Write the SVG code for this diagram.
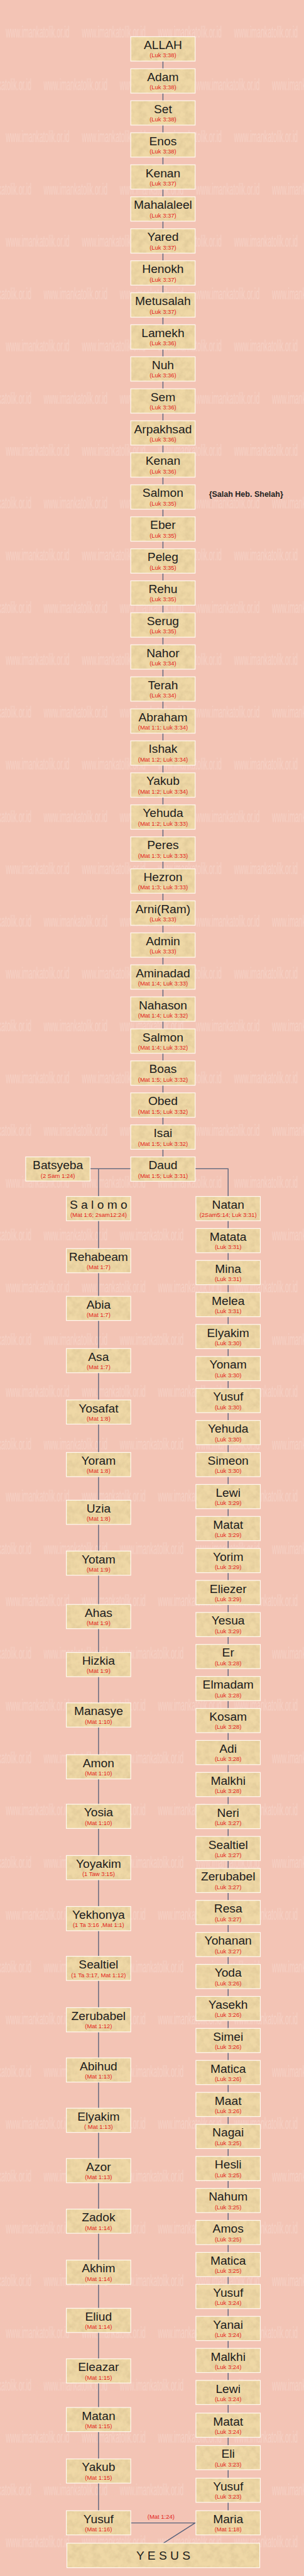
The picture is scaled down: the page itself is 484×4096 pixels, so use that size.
<svg xmlns="http://www.w3.org/2000/svg" width="484" height="4096" viewBox="0 0 484 4096">
<defs>
<style>
.b{fill:url(#pp);stroke:#fff8ef;stroke-width:2}
.n{font-family:"Liberation Sans",Arial,sans-serif;font-size:31.5px;fill:#1c1c1c;text-anchor:middle}
.r{font-family:"Liberation Sans",Arial,sans-serif;font-size:15.5px;fill:#e3231c;text-anchor:middle}
.w{font-family:"Liberation Sans",Arial,sans-serif;font-size:43px;fill:#ffffff;fill-opacity:0.22}
.c{fill:none;stroke:#55607a;stroke-width:2.2}
</style>
<filter id="tex" x="0" y="0" width="1" height="1">
<feTurbulence type="fractalNoise" baseFrequency="0.06" numOctaves="3" seed="7" stitchTiles="stitch"/>
<feColorMatrix type="matrix" values="0 0 0 0 0.55  0 0 0 0 0.42  0 0 0 0 0.22  1.6 0 0 0 -0.6"/>
</filter>
<pattern id="pp" patternUnits="userSpaceOnUse" width="120" height="120">
<rect width="120" height="120" fill="#efd8a6"/>
<rect width="120" height="120" fill="#000" filter="url(#tex)" opacity="0.45"/>
</pattern>
<pattern id="wm" patternUnits="userSpaceOnUse" width="198.5" height="272.4">
<text class="w" x="15" y="98" textLength="166" lengthAdjust="spacingAndGlyphs">www.imankatolik.or.id</text>
<text class="w" x="114" y="234.2" textLength="166" lengthAdjust="spacingAndGlyphs">www.imankatolik.or.id</text>
<text class="w" x="-84.5" y="234.2" textLength="166" lengthAdjust="spacingAndGlyphs">www.imankatolik.or.id</text>
</pattern>
</defs>
<g transform="scale(0.6104)">
<rect x="0" y="0" width="793" height="6712" fill="#f3c4b5"/>
<rect x="0" y="0" width="793" height="6712" fill="url(#wm)"/>
<g id="connectors">
<path class="c" d="M425 159 V3014"/>
<path class="c" d="M235 3044.5 H341"/>
<path class="c" d="M257 3044.5 V6541"/>
<path class="c" d="M509 3044.5 H595 V6541"/>
<path class="c" d="M341 6572 H509 L426 6625"/>
<text class="r" x="420" y="6561">(Mat 1:24)</text>
</g>
<g id="m00"><rect class="b" x="341" y="95.7" width="168" height="63.5"/><text class="n" x="425" y="127.7">ALLAH</text><text class="r" x="425" y="149.7">(Luk 3:38)</text></g>
<g id="m01"><rect class="b" x="341" y="179.1" width="168" height="63.5"/><text class="n" x="425" y="211.1">Adam</text><text class="r" x="425" y="233.1">(Luk 3:38)</text></g>
<g id="m02"><rect class="b" x="341" y="262.4" width="168" height="63.5"/><text class="n" x="425" y="294.4">Set</text><text class="r" x="425" y="316.4">(Luk 3:38)</text></g>
<g id="m03"><rect class="b" x="341" y="345.8" width="168" height="63.5"/><text class="n" x="425" y="377.8">Enos</text><text class="r" x="425" y="399.8">(Luk 3:38)</text></g>
<g id="m04"><rect class="b" x="341" y="429.2" width="168" height="63.5"/><text class="n" x="425" y="461.2">Kenan</text><text class="r" x="425" y="483.2">(Luk 3:37)</text></g>
<g id="m05"><rect class="b" x="341" y="512.6" width="168" height="63.5"/><text class="n" x="425" y="544.6">Mahalaleel</text><text class="r" x="425" y="566.6">(Luk 3:37)</text></g>
<g id="m06"><rect class="b" x="341" y="595.9" width="168" height="63.5"/><text class="n" x="425" y="627.9">Yared</text><text class="r" x="425" y="649.9">(Luk 3:37)</text></g>
<g id="m07"><rect class="b" x="341" y="679.3" width="168" height="63.5"/><text class="n" x="425" y="711.3">Henokh</text><text class="r" x="425" y="733.3">(Luk 3:37)</text></g>
<g id="m08"><rect class="b" x="341" y="762.7" width="168" height="63.5"/><text class="n" x="425" y="794.7">Metusalah</text><text class="r" x="425" y="816.7">(Luk 3:37)</text></g>
<g id="m09"><rect class="b" x="341" y="846" width="168" height="63.5"/><text class="n" x="425" y="878">Lamekh</text><text class="r" x="425" y="900">(Luk 3:36)</text></g>
<g id="m10"><rect class="b" x="341" y="929.4" width="168" height="63.5"/><text class="n" x="425" y="961.4">Nuh</text><text class="r" x="425" y="983.4">(Luk 3:36)</text></g>
<g id="m11"><rect class="b" x="341" y="1012.8" width="168" height="63.5"/><text class="n" x="425" y="1044.8">Sem</text><text class="r" x="425" y="1066.8">(Luk 3:36)</text></g>
<g id="m12"><rect class="b" x="341" y="1096.1" width="168" height="63.5"/><text class="n" x="425" y="1128.1">Arpakhsad</text><text class="r" x="425" y="1150.1">(Luk 3:36)</text></g>
<g id="m13"><rect class="b" x="341" y="1179.5" width="168" height="63.5"/><text class="n" x="425" y="1211.5">Kenan</text><text class="r" x="425" y="1233.5">(Luk 3:36)</text></g>
<g id="m14"><rect class="b" x="341" y="1262.9" width="168" height="63.5"/><text class="n" x="425" y="1294.9">Salmon</text><text class="r" x="425" y="1316.9">(Luk 3:35)</text><text x="545" y="1295" font-family="Liberation Sans, Arial, sans-serif" font-size="20.5" font-weight="bold" fill="#222">{Salah Heb. Shelah}</text></g>
<g id="m15"><rect class="b" x="341" y="1346.3" width="168" height="63.5"/><text class="n" x="425" y="1378.3">Eber</text><text class="r" x="425" y="1400.3">(Luk 3:35)</text></g>
<g id="m16"><rect class="b" x="341" y="1429.6" width="168" height="63.5"/><text class="n" x="425" y="1461.6">Peleg</text><text class="r" x="425" y="1483.6">(Luk 3:35)</text></g>
<g id="m17"><rect class="b" x="341" y="1513" width="168" height="63.5"/><text class="n" x="425" y="1545">Rehu</text><text class="r" x="425" y="1567">(Luk 3:35)</text></g>
<g id="m18"><rect class="b" x="341" y="1596.4" width="168" height="63.5"/><text class="n" x="425" y="1628.4">Serug</text><text class="r" x="425" y="1650.4">(Luk 3:35)</text></g>
<g id="m19"><rect class="b" x="341" y="1679.7" width="168" height="63.5"/><text class="n" x="425" y="1711.7">Nahor</text><text class="r" x="425" y="1733.7">(Luk 3:34)</text></g>
<g id="m20"><rect class="b" x="341" y="1763.1" width="168" height="63.5"/><text class="n" x="425" y="1795.1">Terah</text><text class="r" x="425" y="1817.1">(Luk 3:34)</text></g>
<g id="m21"><rect class="b" x="341" y="1846.5" width="168" height="63.5"/><text class="n" x="425" y="1878.5">Abraham</text><text class="r" x="425" y="1900.5">(Mat 1:1; Luk 3:34)</text></g>
<g id="m22"><rect class="b" x="341" y="1929.8" width="168" height="63.5"/><text class="n" x="425" y="1961.8">Ishak</text><text class="r" x="425" y="1983.8">(Mat 1:2; Luk 3:34)</text></g>
<g id="m23"><rect class="b" x="341" y="2013.2" width="168" height="63.5"/><text class="n" x="425" y="2045.2">Yakub</text><text class="r" x="425" y="2067.2">(Mat 1:2; Luk 3:34)</text></g>
<g id="m24"><rect class="b" x="341" y="2096.6" width="168" height="63.5"/><text class="n" x="425" y="2128.6">Yehuda</text><text class="r" x="425" y="2150.6">(Mat 1:2; Luk 3:33)</text></g>
<g id="m25"><rect class="b" x="341" y="2180" width="168" height="63.5"/><text class="n" x="425" y="2212">Peres</text><text class="r" x="425" y="2234">(Mat 1:3; Luk 3:33)</text></g>
<g id="m26"><rect class="b" x="341" y="2263.3" width="168" height="63.5"/><text class="n" x="425" y="2295.3">Hezron</text><text class="r" x="425" y="2317.3">(Mat 1:3; Luk 3:33)</text></g>
<g id="m27"><rect class="b" x="341" y="2346.7" width="168" height="63.5"/><text class="n" x="425" y="2378.7">Arni(Ram)</text><text class="r" x="425" y="2400.7">(Luk 3:33)</text></g>
<g id="m28"><rect class="b" x="341" y="2430.1" width="168" height="63.5"/><text class="n" x="425" y="2462.1">Admin</text><text class="r" x="425" y="2484.1">(Luk 3:33)</text></g>
<g id="m29"><rect class="b" x="341" y="2513.4" width="168" height="63.5"/><text class="n" x="425" y="2545.4">Aminadad</text><text class="r" x="425" y="2567.4">(Mat 1:4; Luk 3:33)</text></g>
<g id="m30"><rect class="b" x="341" y="2596.8" width="168" height="63.5"/><text class="n" x="425" y="2628.8">Nahason</text><text class="r" x="425" y="2650.8">(Mat 1:4; Luk 3:32)</text></g>
<g id="m31"><rect class="b" x="341" y="2680.2" width="168" height="63.5"/><text class="n" x="425" y="2712.2">Salmon</text><text class="r" x="425" y="2734.2">(Mat 1:4; Luk 3:32)</text></g>
<g id="m32"><rect class="b" x="341" y="2763.5" width="168" height="63.5"/><text class="n" x="425" y="2795.5">Boas</text><text class="r" x="425" y="2817.5">(Mat 1:5; Luk 3:32)</text></g>
<g id="m33"><rect class="b" x="341" y="2846.9" width="168" height="63.5"/><text class="n" x="425" y="2878.9">Obed</text><text class="r" x="425" y="2900.9">(Mat 1:5; Luk 3:32)</text></g>
<g id="m34"><rect class="b" x="341" y="2930.3" width="168" height="63.5"/><text class="n" x="425" y="2962.3">Isai</text><text class="r" x="425" y="2984.3">(Mat 1:5; Luk 3:32)</text></g>
<g id="m35"><rect class="b" x="341" y="3013.7" width="168" height="63.5"/><text class="n" x="425" y="3045.7">Daud</text><text class="r" x="425" y="3067.7">(Mat 1:5; Luk 3:31)</text></g>
<g id="batsyeba"><rect class="b" x="67" y="3013.7" width="168" height="63"/><text class="n" x="151" y="3045.7">Batsyeba</text><text class="r" x="151" y="3067.7">(2 Sam 1:24)</text></g>
<g id="l00"><rect class="b" x="173" y="3116.8" width="168" height="63"/><text class="n" x="257" y="3148.8">S a l o m o</text><text class="r" x="257" y="3170.8">(Mat 1:6; 2sam12:24)</text></g>
<g id="l01"><rect class="b" x="173" y="3252.5" width="168" height="63"/><text class="n" x="257" y="3284.5">Rehabeam</text><text class="r" x="257" y="3306.5">(Mat 1:7)</text></g>
<g id="l02"><rect class="b" x="173" y="3376.8" width="168" height="63"/><text class="n" x="257" y="3408.8">Abia</text><text class="r" x="257" y="3430.8">(Mat 1:7)</text></g>
<g id="l03"><rect class="b" x="173" y="3512.9" width="168" height="63"/><text class="n" x="257" y="3544.9">Asa</text><text class="r" x="257" y="3566.9">(Mat 1:7)</text></g>
<g id="l04"><rect class="b" x="173" y="3646.8" width="168" height="63"/><text class="n" x="257" y="3678.8">Yosafat</text><text class="r" x="257" y="3700.8">(Mat 1:8)</text></g>
<g id="l05"><rect class="b" x="173" y="3783.6" width="168" height="63"/><text class="n" x="257" y="3815.6">Yoram</text><text class="r" x="257" y="3837.6">(Mat 1:8)</text></g>
<g id="l06"><rect class="b" x="173" y="3908" width="168" height="63"/><text class="n" x="257" y="3940">Uzia</text><text class="r" x="257" y="3962">(Mat 1:8)</text></g>
<g id="l07"><rect class="b" x="173" y="4040.4" width="168" height="63"/><text class="n" x="257" y="4072.4">Yotam</text><text class="r" x="257" y="4094.4">(Mat 1:9)</text></g>
<g id="l08"><rect class="b" x="173" y="4179.6" width="168" height="63"/><text class="n" x="257" y="4211.6">Ahas</text><text class="r" x="257" y="4233.6">(Mat 1:9)</text></g>
<g id="l09"><rect class="b" x="173" y="4304.6" width="168" height="63"/><text class="n" x="257" y="4336.6">Hizkia</text><text class="r" x="257" y="4358.6">(Mat 1:9)</text></g>
<g id="l10"><rect class="b" x="173" y="4436" width="168" height="63"/><text class="n" x="257" y="4468">Manasye</text><text class="r" x="257" y="4490">(Mat 1:10)</text></g>
<g id="l11"><rect class="b" x="173" y="4571" width="168" height="63"/><text class="n" x="257" y="4603">Amon</text><text class="r" x="257" y="4625">(Mat 1:10)</text></g>
<g id="l12"><rect class="b" x="173" y="4700" width="168" height="63"/><text class="n" x="257" y="4732">Yosia</text><text class="r" x="257" y="4754">(Mat 1:10)</text></g>
<g id="l13"><rect class="b" x="173" y="4833.6" width="168" height="63"/><text class="n" x="257" y="4865.6">Yoyakim</text><text class="r" x="257" y="4887.6">(1 Taw 3:15)</text></g>
<g id="l14"><rect class="b" x="173" y="4966.4" width="168" height="63"/><text class="n" x="257" y="4998.4">Yekhonya</text><text class="r" x="257" y="5020.4">(1 Ta 3:16 ,Mat 1:1)</text></g>
<g id="l15"><rect class="b" x="173" y="5096" width="168" height="63"/><text class="n" x="257" y="5128">Sealtiel</text><text class="r" x="257" y="5150">(1 Ta 3:17, Mat 1:12)</text></g>
<g id="l16"><rect class="b" x="173" y="5230" width="168" height="63"/><text class="n" x="257" y="5262">Zerubabel</text><text class="r" x="257" y="5284">(Mat 1:12)</text></g>
<g id="l17"><rect class="b" x="173" y="5360.7" width="168" height="63"/><text class="n" x="257" y="5392.7">Abihud</text><text class="r" x="257" y="5414.7">(Mat 1:13)</text></g>
<g id="l18"><rect class="b" x="173" y="5491.8" width="168" height="63"/><text class="n" x="257" y="5523.8">Elyakim</text><text class="r" x="257" y="5545.8">( Mat 1:13)</text></g>
<g id="l19"><rect class="b" x="173" y="5622.9" width="168" height="63"/><text class="n" x="257" y="5654.9">Azor</text><text class="r" x="257" y="5676.9">(Mat 1:13)</text></g>
<g id="l20"><rect class="b" x="173" y="5754.6" width="168" height="63"/><text class="n" x="257" y="5786.6">Zadok</text><text class="r" x="257" y="5808.6">(Mat 1:14)</text></g>
<g id="l21"><rect class="b" x="173" y="5887.5" width="168" height="63"/><text class="n" x="257" y="5919.5">Akhim</text><text class="r" x="257" y="5941.5">(Mat 1:14)</text></g>
<g id="l22"><rect class="b" x="173" y="6013" width="168" height="63"/><text class="n" x="257" y="6045">Eliud</text><text class="r" x="257" y="6067">(Mat 1:14)</text></g>
<g id="l23"><rect class="b" x="173" y="6144.6" width="168" height="63"/><text class="n" x="257" y="6176.6">Eleazar</text><text class="r" x="257" y="6198.6">(Mat 1:15)</text></g>
<g id="l24"><rect class="b" x="173" y="6271.4" width="168" height="63"/><text class="n" x="257" y="6303.4">Matan</text><text class="r" x="257" y="6325.4">(Mat 1:15)</text></g>
<g id="l25"><rect class="b" x="173" y="6405.4" width="168" height="63"/><text class="n" x="257" y="6437.4">Yakub</text><text class="r" x="257" y="6459.4">(Mat 1:15)</text></g>
<g id="l26"><rect class="b" x="173" y="6540.3" width="168" height="63"/><text class="n" x="257" y="6572.3">Yusuf</text><text class="r" x="257" y="6594.3">(Mat 1:16)</text></g>
<g id="r00"><rect class="b" x="511" y="3116.8" width="168" height="63"/><text class="n" x="595" y="3148.8">Natan</text><text class="r" x="595" y="3170.8">(2Sam5:14; Luk 3:31)</text></g>
<g id="r01"><rect class="b" x="511" y="3200.2" width="168" height="63"/><text class="n" x="595" y="3232.2">Matata</text><text class="r" x="595" y="3254.2">(Luk 3:31)</text></g>
<g id="r02"><rect class="b" x="511" y="3283.5" width="168" height="63"/><text class="n" x="595" y="3315.5">Mina</text><text class="r" x="595" y="3337.5">(Luk 3:31)</text></g>
<g id="r03"><rect class="b" x="511" y="3366.9" width="168" height="63"/><text class="n" x="595" y="3398.9">Melea</text><text class="r" x="595" y="3420.9">(Luk 3:31)</text></g>
<g id="r04"><rect class="b" x="511" y="3450.2" width="168" height="63"/><text class="n" x="595" y="3482.2">Elyakim</text><text class="r" x="595" y="3504.2">(Luk 3:30)</text></g>
<g id="r05"><rect class="b" x="511" y="3533.6" width="168" height="63"/><text class="n" x="595" y="3565.6">Yonam</text><text class="r" x="595" y="3587.6">(Luk 3:30)</text></g>
<g id="r06"><rect class="b" x="511" y="3616.9" width="168" height="63"/><text class="n" x="595" y="3648.9">Yusuf</text><text class="r" x="595" y="3670.9">(Luk 3:30)</text></g>
<g id="r07"><rect class="b" x="511" y="3700.3" width="168" height="63"/><text class="n" x="595" y="3732.3">Yehuda</text><text class="r" x="595" y="3754.3">(Luk 3:30)</text></g>
<g id="r08"><rect class="b" x="511" y="3783.6" width="168" height="63"/><text class="n" x="595" y="3815.6">Simeon</text><text class="r" x="595" y="3837.6">(Luk 3:30)</text></g>
<g id="r09"><rect class="b" x="511" y="3867" width="168" height="63"/><text class="n" x="595" y="3899">Lewi</text><text class="r" x="595" y="3921">(Luk 3:29)</text></g>
<g id="r10"><rect class="b" x="511" y="3950.3" width="168" height="63"/><text class="n" x="595" y="3982.3">Matat</text><text class="r" x="595" y="4004.3">(Luk 3:29)</text></g>
<g id="r11"><rect class="b" x="511" y="4033.7" width="168" height="63"/><text class="n" x="595" y="4065.7">Yorim</text><text class="r" x="595" y="4087.7">(Luk 3:29)</text></g>
<g id="r12"><rect class="b" x="511" y="4117" width="168" height="63"/><text class="n" x="595" y="4149">Eliezer</text><text class="r" x="595" y="4171">(Luk 3:29)</text></g>
<g id="r13"><rect class="b" x="511" y="4200.4" width="168" height="63"/><text class="n" x="595" y="4232.4">Yesua</text><text class="r" x="595" y="4254.4">(Luk 3:29)</text></g>
<g id="r14"><rect class="b" x="511" y="4283.7" width="168" height="63"/><text class="n" x="595" y="4315.7">Er</text><text class="r" x="595" y="4337.7">(Luk 3:28)</text></g>
<g id="r15"><rect class="b" x="511" y="4367.1" width="168" height="63"/><text class="n" x="595" y="4399.1">Elmadam</text><text class="r" x="595" y="4421.1">(Luk 3:28)</text></g>
<g id="r16"><rect class="b" x="511" y="4450.4" width="168" height="63"/><text class="n" x="595" y="4482.4">Kosam</text><text class="r" x="595" y="4504.4">(Luk 3:28)</text></g>
<g id="r17"><rect class="b" x="511" y="4533.8" width="168" height="63"/><text class="n" x="595" y="4565.8">Adi</text><text class="r" x="595" y="4587.8">(Luk 3:28)</text></g>
<g id="r18"><rect class="b" x="511" y="4617.1" width="168" height="63"/><text class="n" x="595" y="4649.1">Malkhi</text><text class="r" x="595" y="4671.1">(Luk 3:28)</text></g>
<g id="r19"><rect class="b" x="511" y="4700.5" width="168" height="63"/><text class="n" x="595" y="4732.5">Neri</text><text class="r" x="595" y="4754.5">(Luk 3:27)</text></g>
<g id="r20"><rect class="b" x="511" y="4783.8" width="168" height="63"/><text class="n" x="595" y="4815.8">Sealtiel</text><text class="r" x="595" y="4837.8">(Luk 3:27)</text></g>
<g id="r21"><rect class="b" x="511" y="4867.2" width="168" height="63"/><text class="n" x="595" y="4899.2">Zerubabel</text><text class="r" x="595" y="4921.2">(Luk 3:27)</text></g>
<g id="r22"><rect class="b" x="511" y="4950.5" width="168" height="63"/><text class="n" x="595" y="4982.5">Resa</text><text class="r" x="595" y="5004.5">(Luk 3:27)</text></g>
<g id="r23"><rect class="b" x="511" y="5033.9" width="168" height="63"/><text class="n" x="595" y="5065.9">Yohanan</text><text class="r" x="595" y="5087.9">(Luk 3:27)</text></g>
<g id="r24"><rect class="b" x="511" y="5117.2" width="168" height="63"/><text class="n" x="595" y="5149.2">Yoda</text><text class="r" x="595" y="5171.2">(Luk 3:26)</text></g>
<g id="r25"><rect class="b" x="511" y="5200.6" width="168" height="63"/><text class="n" x="595" y="5232.6">Yasekh</text><text class="r" x="595" y="5254.6">(Luk 3:26)</text></g>
<g id="r26"><rect class="b" x="511" y="5283.9" width="168" height="63"/><text class="n" x="595" y="5315.9">Simei</text><text class="r" x="595" y="5337.9">(Luk 3:26)</text></g>
<g id="r27"><rect class="b" x="511" y="5367.3" width="168" height="63"/><text class="n" x="595" y="5399.3">Matica</text><text class="r" x="595" y="5421.3">(Luk 3:26)</text></g>
<g id="r28"><rect class="b" x="511" y="5450.6" width="168" height="63"/><text class="n" x="595" y="5482.6">Maat</text><text class="r" x="595" y="5504.6">(Luk 3:26)</text></g>
<g id="r29"><rect class="b" x="511" y="5534" width="168" height="63"/><text class="n" x="595" y="5566">Nagai</text><text class="r" x="595" y="5588">(Luk 3:25)</text></g>
<g id="r30"><rect class="b" x="511" y="5617.3" width="168" height="63"/><text class="n" x="595" y="5649.3">Hesli</text><text class="r" x="595" y="5671.3">(Luk 3:25)</text></g>
<g id="r31"><rect class="b" x="511" y="5700.7" width="168" height="63"/><text class="n" x="595" y="5732.7">Nahum</text><text class="r" x="595" y="5754.7">(Luk 3:25)</text></g>
<g id="r32"><rect class="b" x="511" y="5784" width="168" height="63"/><text class="n" x="595" y="5816">Amos</text><text class="r" x="595" y="5838">(Luk 3:25)</text></g>
<g id="r33"><rect class="b" x="511" y="5867.4" width="168" height="63"/><text class="n" x="595" y="5899.4">Matica</text><text class="r" x="595" y="5921.4">(Luk 3:25)</text></g>
<g id="r34"><rect class="b" x="511" y="5950.7" width="168" height="63"/><text class="n" x="595" y="5982.7">Yusuf</text><text class="r" x="595" y="6004.7">(Luk 3:24)</text></g>
<g id="r35"><rect class="b" x="511" y="6034.1" width="168" height="63"/><text class="n" x="595" y="6066.1">Yanai</text><text class="r" x="595" y="6088.1">(Luk 3:24)</text></g>
<g id="r36"><rect class="b" x="511" y="6117.4" width="168" height="63"/><text class="n" x="595" y="6149.4">Malkhi</text><text class="r" x="595" y="6171.4">(Luk 3:24)</text></g>
<g id="r37"><rect class="b" x="511" y="6200.8" width="168" height="63"/><text class="n" x="595" y="6232.8">Lewi</text><text class="r" x="595" y="6254.8">(Luk 3:24)</text></g>
<g id="r38"><rect class="b" x="511" y="6286" width="168" height="63"/><text class="n" x="595" y="6318">Matat</text><text class="r" x="595" y="6340">(Luk 3:24)</text></g>
<g id="r39"><rect class="b" x="511" y="6370.5" width="168" height="63"/><text class="n" x="595" y="6402.5">Eli</text><text class="r" x="595" y="6424.5">(Luk 3:23)</text></g>
<g id="r40"><rect class="b" x="511" y="6455.5" width="168" height="63"/><text class="n" x="595" y="6487.5">Yusuf</text><text class="r" x="595" y="6509.5">(Luk 3:23)</text></g>
<g id="r41"><rect class="b" x="511" y="6540.3" width="168" height="63"/><text class="n" x="595" y="6572.3">Maria</text><text class="r" x="595" y="6594.3">(Mat 1:18)</text></g>
<g id="yesus"><rect class="b" x="174.5" y="6625" width="503" height="63.6"/><text class="n" x="426" y="6667">Y E S U S</text></g>
</g>
</svg>
